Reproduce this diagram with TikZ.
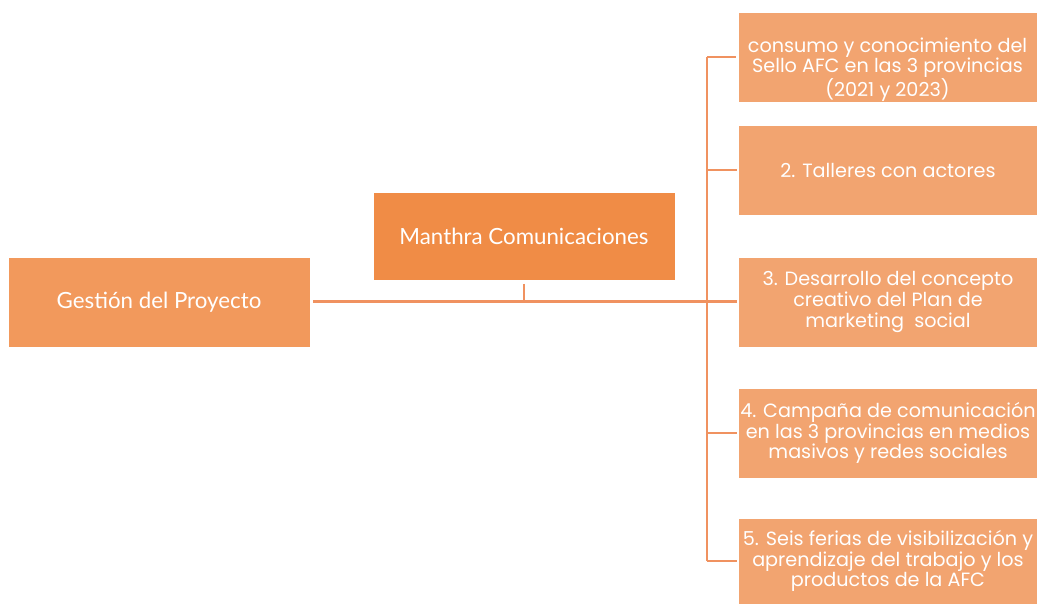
\documentclass[tikz,border=0pt]{standalone}
\usepackage{fontspec}
\setmainfont{Poppins}
\newfontfamily\narrowfont{Lato}
\begin{document}
\begin{tikzpicture}[x=1pt,y=1pt]
\definecolor{fillColor}{RGB}{255,255,255}
\definecolor{rootColor}{RGB}{242,153,92}
\definecolor{firmColor}{RGB}{240,140,70}
\definecolor{taskColor}{RGB}{242,164,112}
\definecolor{drawColor}{RGB}{240,146,96}
\tikzset{
  box/.style={rectangle,minimum width=302,minimum height=90,inner sep=0pt,outer sep=0pt,
    text=white,align=center,draw=white,line width=0.6pt},
  rootbox/.style={box,fill=rootColor,font=\narrowfont\fontsize{22.3}{26}\selectfont},
  firmbox/.style={box,fill=firmColor,minimum height=88,font=\narrowfont\fontsize{22.3}{26}\selectfont},
  taskbox/.style={box,fill=taskColor,minimum width=299,font=\fontsize{19.2}{20.8}\selectfont},
  link/.style={draw=drawColor,line width=2pt},
  mainlink/.style={draw=drawColor,line width=3pt},
}
\path[use as bounding box,fill=fillColor] (0,0) rectangle (1037,604);

\node[rootbox] (gestion) at (159,302) {Gestión del Proyecto};
\node[firmbox] (manthra) at (524,368) {Manthra Comunicaciones};

\node[taskbox] (task1) at (887.5,547) {\raisebox{-18pt}[0pt][0pt]{\renewcommand\arraystretch{0.93}\begin{tabular}{@{}c@{}}consumo y conocimiento del\\Sello AFC en las 3 provincias\\(2021 y 2023)\end{tabular}}};
\node[taskbox] (task2) at (888,434) {2. Talleres con actores};
\node[taskbox] (task3) at (888,302) {3. Desarrollo del concepto\\creativo del Plan de\\marketing\ \ social};
\node[taskbox] (task4) at (888,171) {4. Campaña de comunicación\\en las 3 provincias en medios\\masivos y redes sociales};
\node[taskbox,minimum height=86] (task5) at (888,43) {5. Seis ferias de visibilización y\\aprendizaje del trabajo y los\\productos de la AFC};

\coordinate (bus) at (707,302);

\path[mainlink] ([xshift=3]gestion.east) -- ([xshift=-2]task3.west);
\path[draw=drawColor,line width=1.5pt] ([yshift=-4]manthra.south) -- (manthra.south |- gestion.east);
\path[link] (bus |- task1.west) -- (bus |- task5.west);
\foreach \t in {task1,task2,task3,task4,task5}
  \path[link] (bus |- \t.west) -- ([xshift=-2]\t.west);
\end{tikzpicture}
\end{document}
